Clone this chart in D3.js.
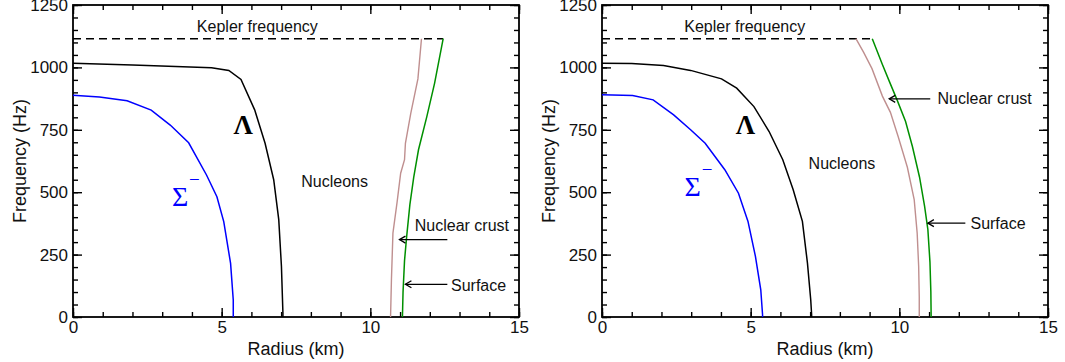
<!DOCTYPE html>
<html>
<head>
<meta charset="utf-8">
<script src="https://cdn.jsdelivr.net/npm/d3@7"></script>
<style>
  body { margin: 0; background: #fff; }
  svg { display: block; font-family: Arial, "Liberation Sans", sans-serif; }
</style>
</head>
<body>
<svg id="chart" width="1065" height="362"></svg>
<script>
// axis ticks
const xTicks = [0, 5, 10, 15];
const yTicks = [0, 250, 500, 750, 1000, 1250];
const keplerFreq = 1115; // Hz

// left panel: [radius km, frequency Hz]
const leftLambda = [[0, 1017], [2, 1010], [4.66, 999], [5.24, 988], [5.65, 952], [6.11, 830],
  [6.46, 696], [6.75, 550], [6.92, 390], [7.01, 203], [7.06, 16], [7.06, 0]];
const leftSigma = [[0, 888], [0.89, 881], [1.82, 866], [2.63, 829], [3.27, 769], [3.89, 698],
  [4.49, 569], [4.84, 482], [5.07, 382], [5.3, 215], [5.39, 68], [5.39, 0]];
const leftCrust = [[10.68, 0], [10.71, 150], [10.76, 336], [10.9, 460], [11.02, 576], [11.15, 630],
  [11.18, 696], [11.36, 816], [11.6, 954], [11.72, 1115]];
const leftSurface = [[11.08, 0], [11.1, 100], [11.15, 226], [11.22, 320], [11.33, 450], [11.46, 560],
  [11.62, 670], [11.9, 803], [12.16, 936], [12.45, 1115]];

// right panel
const rightLambda = [[0, 1017], [1, 1016], [2.07, 1008], [2.98, 988], [4.02, 954], [4.53, 917],
  [5.11, 843], [5.62, 743], [6.08, 630], [6.43, 510], [6.74, 383], [6.91, 216], [7.02, 69],
  [7.05, 9], [7.05, 0]];
const rightSigma = [[0, 890], [1.03, 887], [1.72, 870], [2.41, 810], [2.98, 750], [3.47, 696],
  [4.13, 590], [4.59, 496], [4.91, 383], [5.16, 243], [5.34, 109], [5.4, 9], [5.4, 0]];
const rightCrust = [[8.54, 1115], [8.8, 1060], [9.08, 995], [9.43, 885], [9.7, 820], [9.96, 723],
  [10.27, 600], [10.5, 470], [10.6, 336], [10.65, 203], [10.67, 80], [10.67, 0]];
const rightSurface = [[9.09, 1115], [9.42, 1015], [9.66, 945], [9.93, 868], [10.21, 783],
  [10.44, 683], [10.68, 560], [10.85, 443], [10.96, 350], [11.03, 220], [11.06, 100], [11.07, 0]];

const svg = d3.select("#chart");

/**
 * drawPanel()
 * @description draws one frequency / radius panel
 */
function drawPanel(p) {
  const x = d3.scaleLinear().domain([0, 15]).range([p.left, p.right]);
  const y = d3.scaleLinear().domain([0, 1250]).range([317, 5]);
  const g = svg.append("g");

  const minorX = d3.range(0, 15.01, 1);
  const minorY = d3.range(0, 1250.1, 50);

  // ticks on all four sides, pointing in
  const addAxis = (axis, tf) => {
    const a = g.append("g").attr("transform", tf).call(axis);
    a.select(".domain").remove();
    a.selectAll("line").attr("stroke", "#000").attr("stroke-width", 1.4);
    return a;
  };
  addAxis(d3.axisBottom(x).tickValues(minorX).tickSize(-5).tickFormat(""), `translate(0,317)`);
  addAxis(d3.axisTop(x).tickValues(minorX).tickSize(-5).tickFormat(""), `translate(0,5)`);
  addAxis(d3.axisLeft(y).tickValues(minorY).tickSize(-5).tickFormat(""), `translate(${p.left},0)`);
  addAxis(d3.axisRight(y).tickValues(minorY).tickSize(-5).tickFormat(""), `translate(${p.right},0)`);
  addAxis(d3.axisTop(x).tickValues(xTicks).tickSize(-9).tickFormat(""), `translate(0,5)`);
  addAxis(d3.axisRight(y).tickValues(yTicks).tickSize(-9).tickFormat(""), `translate(${p.right},0)`);
  const bx = addAxis(d3.axisBottom(x).tickValues(xTicks).tickSize(-9).tickPadding(4)
    .tickFormat(d3.format("d")), `translate(0,317)`);
  const by = addAxis(d3.axisLeft(y).tickValues(yTicks).tickSize(-9).tickPadding(5)
    .tickFormat(d3.format("d")), `translate(${p.left},0)`);
  [bx, by].forEach(a => a.selectAll("text").attr("font-size", 17)
    .attr("font-family", "Arial, 'Liberation Sans'").attr("fill", "#111"));

  g.append("rect")
    .attr("x", p.left).attr("y", 5)
    .attr("width", p.right - p.left).attr("height", 312)
    .attr("fill", "none").attr("stroke", "#000").attr("stroke-width", 1.8);

  // axis titles
  g.append("text").attr("x", (p.left + p.right) / 2).attr("y", 355)
    .attr("text-anchor", "middle").attr("font-size", 18).attr("fill", "#111").text("Radius (km)");
  g.append("text").attr("transform", `translate(${p.left - 53},161) rotate(-90)`)
    .attr("text-anchor", "middle").attr("dominant-baseline", "central")
    .attr("font-size", 18).attr("fill", "#111").text("Frequency (Hz)");

  // Kepler frequency
  g.append("line")
    .attr("x1", x(0)).attr("x2", x(p.keplerEnd))
    .attr("y1", y(keplerFreq)).attr("y2", y(keplerFreq))
    .attr("stroke", "#000").attr("stroke-width", 1.4).attr("stroke-dasharray", "8,5");

  const line = d3.line().x(d => x(d[0])).y(d => y(d[1]));
  const series = [
    [p.lambda, "#000", 1.5],
    [p.sigma, "#0000ff", 1.5],
    [p.crust, "#bf8f8f", 1.4],
    [p.surface, "#009000", 1.5]
  ];
  series.forEach(([d, c, w]) => {
    g.append("path").datum(d).attr("d", line)
      .attr("fill", "none").attr("stroke", c).attr("stroke-width", w);
  });

  // text labels
  p.labels.forEach(l => {
    g.append("text").attr("x", x(l.r)).attr("y", y(l.f))
      .attr("text-anchor", "middle").attr("dominant-baseline", "central")
      .attr("font-size", 16).attr("fill", "#111").text(l.text);
  });

  g.append("text").attr("x", x(p.lambdaAt[0])).attr("y", y(p.lambdaAt[1]))
    .attr("text-anchor", "middle").attr("dominant-baseline", "central")
    .attr("font-family", "'Liberation Serif', 'DejaVu Serif', serif").attr("font-weight", "bold")
    .attr("font-size", 27).attr("fill", "#000").text("Λ");

  g.append("text").attr("x", x(p.sigmaAt[0])).attr("y", y(p.sigmaAt[1]))
    .attr("text-anchor", "middle").attr("dominant-baseline", "central")
    .attr("font-family", "'Liberation Serif', 'DejaVu Serif', serif")
    .attr("font-size", 28).attr("fill", "#0000ff").text("Σ");
  g.append("text").attr("x", x(p.sigmaAt[0]) + 9).attr("y", y(p.sigmaAt[1]) - 10)
    .attr("font-family", "'Liberation Serif', 'DejaVu Serif', serif")
    .attr("font-size", 19).attr("fill", "#0000ff").text("−");

  // arrows pointing at the crust and surface lines
  p.arrows.forEach(a => {
    const x1 = x(a.from), x2 = x(a.to), yy = y(a.f);
    g.append("line").attr("x1", x1).attr("x2", x2).attr("y1", yy).attr("y2", yy)
      .attr("stroke", "#000").attr("stroke-width", 1.3);
    g.append("path").attr("d", `M${x1 + 6},${yy - 3.5}L${x1},${yy}L${x1 + 6},${yy + 3.5}`)
      .attr("fill", "none").attr("stroke", "#000").attr("stroke-width", 1.3);
  });
}

drawPanel({
  left: 73, right: 519, keplerEnd: 12.45,
  lambda: leftLambda, sigma: leftSigma, crust: leftCrust, surface: leftSurface,
  lambdaAt: [5.72, 768], sigmaAt: [3.6, 483],
  labels: [
    {text: "Kepler frequency", r: 6.2, f: 1165},
    {text: "Nucleons", r: 8.8, f: 543},
    {text: "Nuclear crust", r: 13.08, f: 367},
    {text: "Surface", r: 13.64, f: 128}
  ],
  arrows: [
    {from: 10.98, to: 12.59, f: 310},
    {from: 11.18, to: 12.59, f: 131}
  ]
});

drawPanel({
  left: 602, right: 1048, keplerEnd: 9.09,
  lambda: rightLambda, sigma: rightSigma, crust: rightCrust, surface: rightSurface,
  lambdaAt: [4.82, 768], sigmaAt: [3.05, 523],
  labels: [
    {text: "Kepler frequency", r: 4.8, f: 1165},
    {text: "Nucleons", r: 8.07, f: 616},
    {text: "Nuclear crust", r: 12.87, f: 875},
    {text: "Surface", r: 13.32, f: 376}
  ],
  arrows: [
    {from: 9.66, to: 11.04, f: 874},
    {from: 10.96, to: 12.22, f: 376}
  ]
});
</script>
</body>
</html>
